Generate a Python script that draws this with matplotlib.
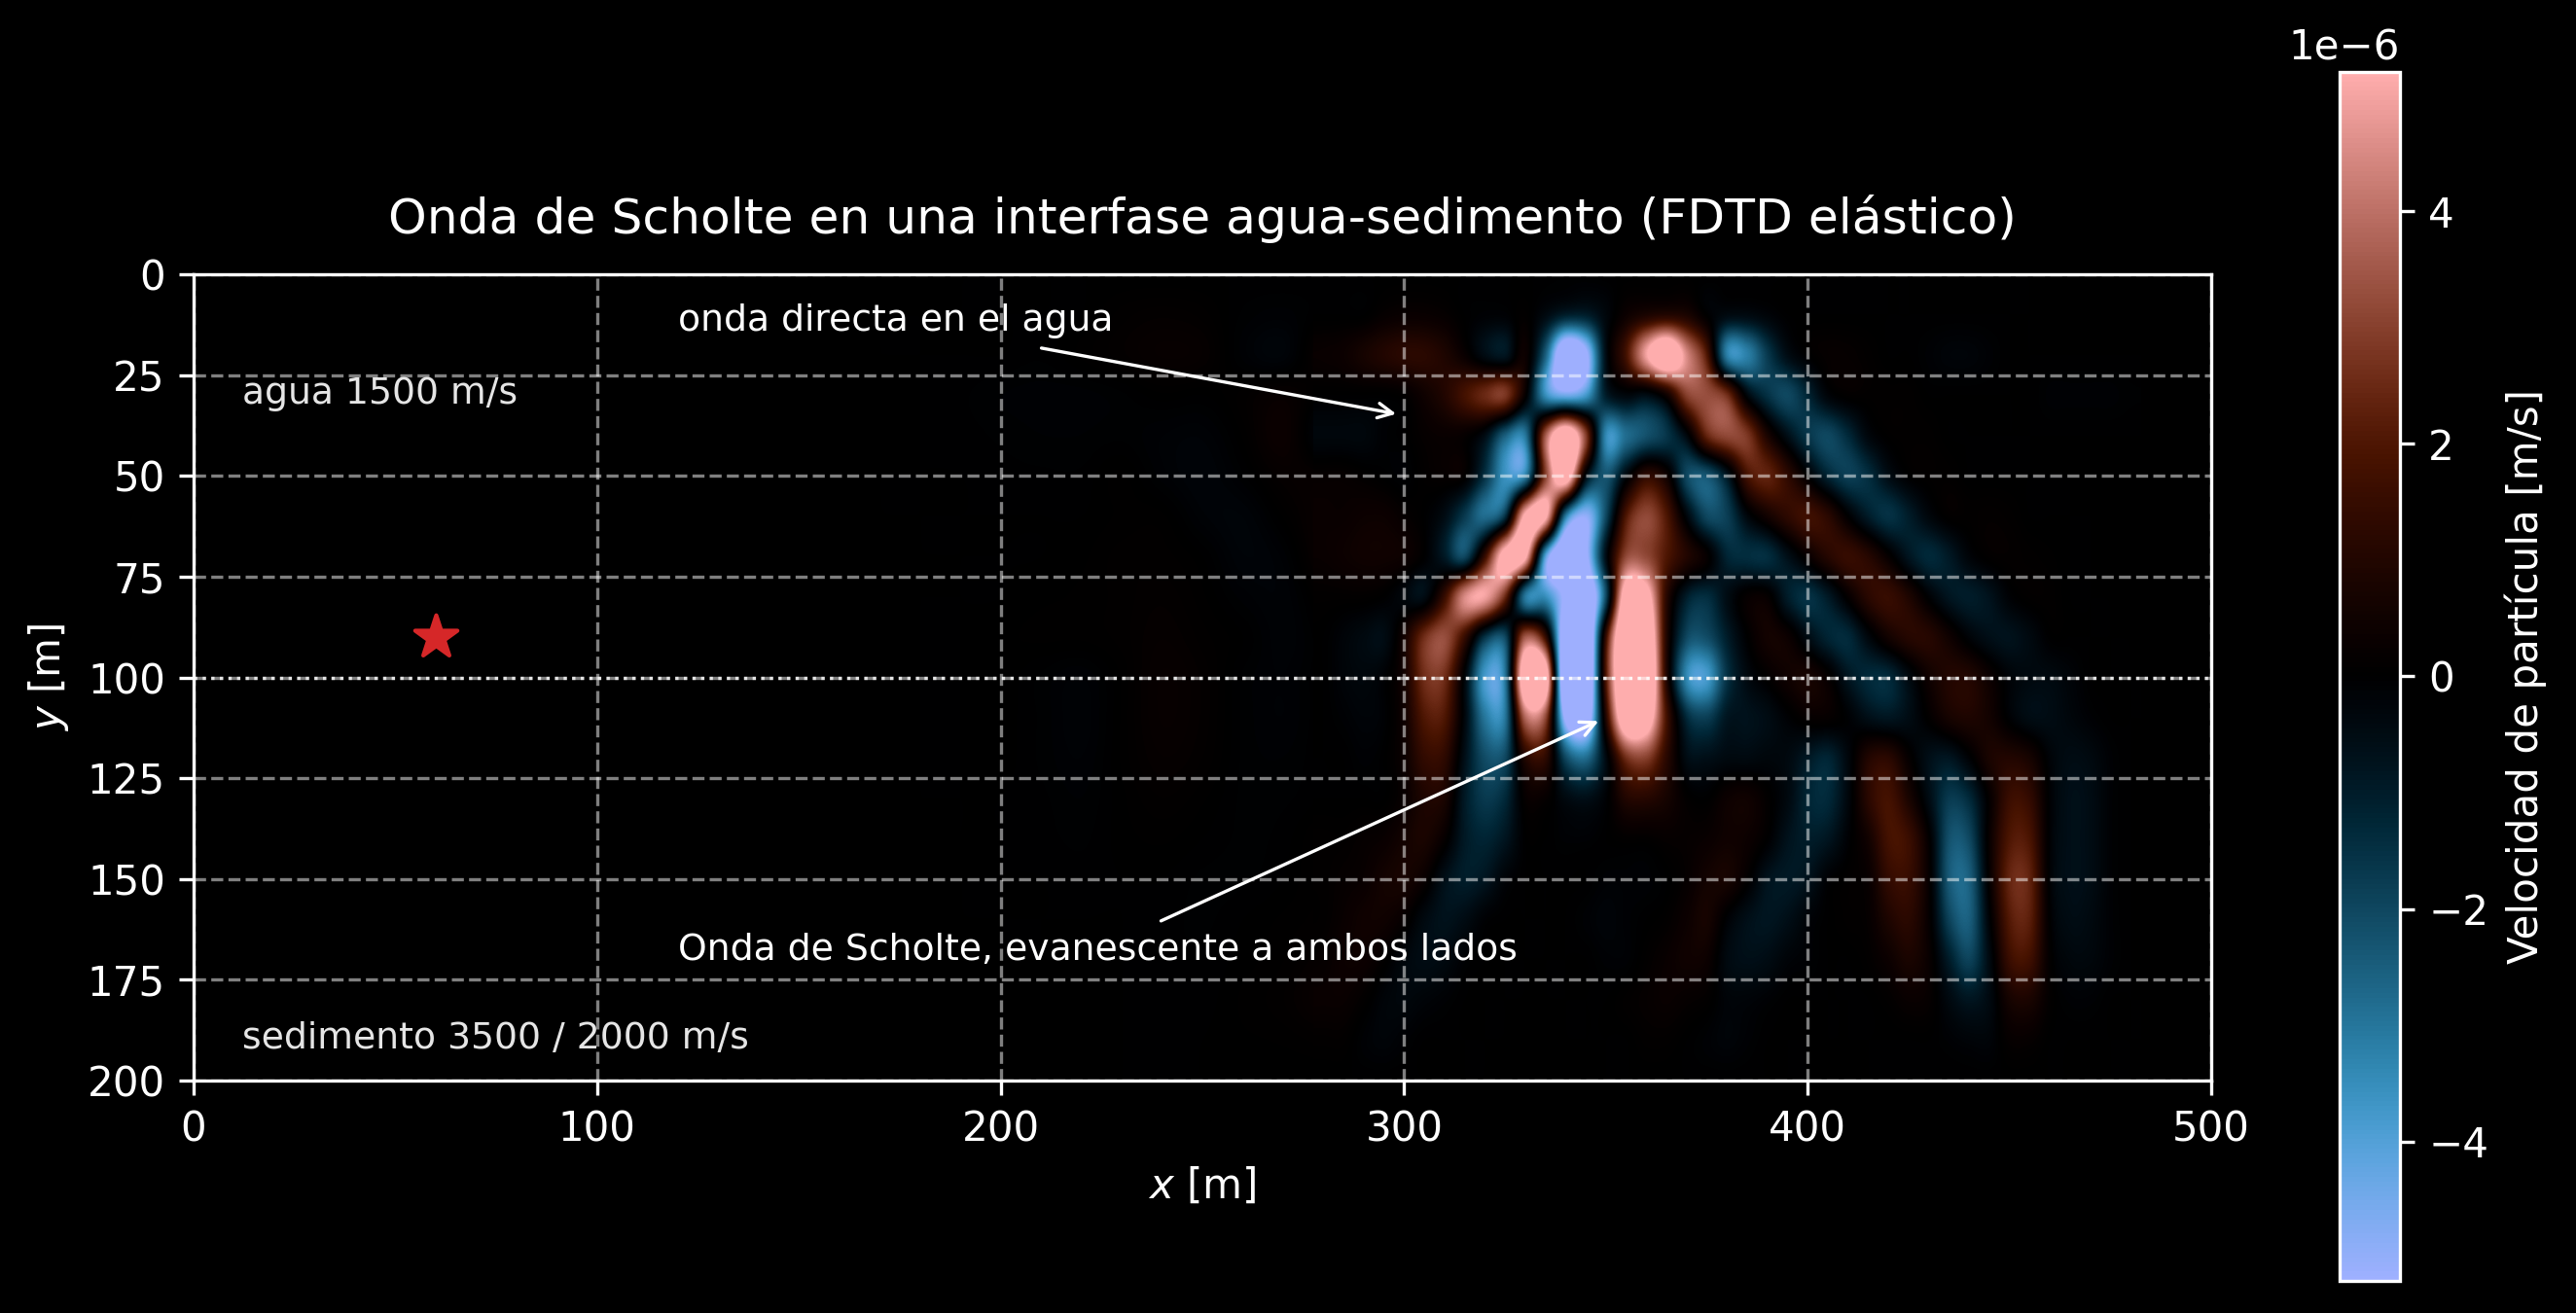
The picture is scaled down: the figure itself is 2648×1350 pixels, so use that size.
import matplotlib
import matplotlib.pyplot as plt
import numpy as np
from matplotlib.colors import ListedColormap

matplotlib.use('Agg')
plt.style.use("dark_background")
plt.rcParams["font.size"] = 10.1

# depth rows [m], shared by both field patches
y_rows = np.arange(0, 201, 10)

# faint wavefronts left of the main packet, particle velocity in 1e-6 m/s
x_left = np.arange(160, 281, 10)
field_left = [
    [0, 0, 0, 0, 0, 0, 0, 0, 0, 0, 0, 0, 0],
    [0, 0, 0, 0, 0, 0, 0, .1, .15, .1, -.05, -.1, 0],
    [0, 0, 0, 0, 0, -.03, .05, .15, .25, .2, -.1, -.2, .3],
    [0, 0, 0, -.03, -.08, -.1, -.1, -.05, .03, 0, .1, .25, 0],
    [0, 0, 0, -.02, -.05, -.08, -.08, -.05, -.12, -.15, .05, .35, -.3],
    [0, 0, 0, 0, -.02, -.03, -.03, .05, -.1, -.2, -.05, .2, .2],
    [0, 0, 0, 0, 0, 0, 0, .05, .05, -.15, -.2, .05, .3],
    [0, 0, 0, 0, 0, 0, .03, .1, .1, 0, -.2, -.1, .3],
    [0, 0, 0, 0, 0, .03, .05, .1, .15, .05, -.1, -.15, .1],
    [0, 0, 0, 0, .03, .05, .05, .1, .2, .1, 0, -.15, 0],
    [0, 0, 0, 0, .03, -.05, -.12, .05, .25, .15, -.05, -.12, 0],
    [0, 0, 0, 0, .02, -.05, -.15, .05, .25, .15, -.05, -.12, 0],
    [0, 0, 0, 0, .02, -.05, -.12, .05, .2, .12, -.05, -.08, 0],
    [0, 0, 0, 0, 0, -.03, -.08, .03, .12, .05, -.05, -.05, 0],
    [0, 0, 0, 0, 0, -.02, -.05, .02, .05, 0, -.05, -.02, .1],
    [0, 0, 0, 0, 0, 0, -.02, 0, 0, -.05, -.05, 0, .1],
    [0, 0, 0, 0, 0, 0, 0, 0, -.02, -.05, 0, .05, .1],
    [0, 0, 0, 0, 0, 0, 0, 0, -.03, -.03, .02, .08, .2],
    [0, 0, 0, 0, 0, 0, 0, 0, -.03, -.02, .05, .12, .3],
    [0, 0, 0, 0, 0, 0, 0, 0, -.02, 0, .03, .05, .1],
    [0, 0, 0, 0, 0, 0, 0, 0, 0, 0, 0, 0, 0],
]

# main packet on a 5 m x 10 m grid
x_main = np.arange(280, 481, 5)
field_main = [
    [0] * 41,
    [0, 0, 0, .2, .3, .3, .2, 0, -.1, -.1, .1, -.4, -1, -1, -.3, .4, .8, 1, .8, 0, -.4,
     -.4, -.2, 0, 0, 0, 0, 0, 0, 0, 0, 0, 0, 0, 0, 0, 0, 0, 0, 0, 0],
    [.3, .4, .7, 1, 1.2, 1.2, .9, .3, -.5, -.8, .4, -2.5, -7, -5.5, -.5, 1.8, 5, 7, 4.5, 2, -3.2,
     -3.2, -1.7, -.5, 0, .2, .2, .1, 0, 0, -.1, -.2, -.2, -.1, 0, 0, 0, 0, 0, 0, 0],
    [0, 0, 0, 0, .1, .5, 1, 1.8, 2.5, 2.8, .2, -3.5, -4.5, -3.8, -1, -.3, -.5, .5, 3, 3.3, 2.6,
     -.3, -1.5, -2, -1.2, -.2, .1, .1, .1, .1, 0, 0, 0, 0, 0, 0, -.1, -.1, -.1, -.1, -.05],
    [-.3, -.3, -.3, -.1, 0, .2, .3, .2, -.5, -2.5, -3, 3.5, 7, 3, -3.4, -2.8, -2.2, -1.6, -.3, 2.4, 3.2,
     2.8, .8, -.6, -1.6, -2, -1.3, -.3, .05, .1, .1, 0, 0, 0, 0, 0, 0, 0, 0, 0, 0],
    [.2, .2, .1, 0, -.1, .1, .2, .1, -1.5, -3.6, -3.2, 3, 6.5, -.3, -2.3, -.3, 1.3, .5, -2, -2.3, -.8,
     1.8, 2.3, 1.3, 0, -1.2, -1.8, -1.4, -.5, 0, .1, .1, 0, 0, 0, 0, 0, 0, 0, 0, 0],
    [.3, .3, .4, .4, .2, 0, -.5, -1.7, -2.8, -1.5, 5.5, 5.5, -3, -5, -2, 2, 3.2, 2, -.3, -2, -1.8,
     -.3, .6, 1.3, 1.7, 1.2, 0, -1, -1.5, -1, -.3, .1, .1, .15, .1, 0, 0, 0, 0, 0, 0],
    [.3, .4, .5, .5, .4, 0, -.9, -2, 1.5, 6, 5.5, -4, -7, -5.5, -.5, 3.2, 3.2, 2, 1, .2, -1.2,
     -1.4, -1.4, -.6, .3, 1.1, 1.5, 1.1, .2, -.8, -1.3, -.9, -.2, .1, .15, .1, .05, 0, 0, 0, 0],
    [.1, .1, .1, 0, -.3, -.5, 1.5, 4.5, 5, 2.5, -3, -3.5, -5.5, -7, -2, 6.5, 6, 1.2, -1, -1.4, -.5,
     .2, .2, -1, -1.5, -.9, .2, 1.2, 1.5, .9, -.1, -.8, -1, -.7, -.1, .1, .1, 0, 0, 0, 0],
    [0, -.2, -.4, -.5, .6, 2.6, 3.3, 1.5, -1.5, -2, 3.5, 1.5, -7, -8, 1.5, 8, 7.5, 1, -2, -2.1, -1,
     0, .6, .4, -.5, -1.2, -1.3, -.3, .6, 1.1, 1.1, .5, -.2, -.6, -.7, -.4, 0, 0, 0, 0, 0],
    [0, -.2, -.3, -.1, .6, 2.6, 2.6, -.2, -3.8, -3, 7, 6.5, -8, -8, 2, 8, 8, 1, -3.4, -3.8, -1.5,
     -.4, .1, .5, .7, .2, -.8, -1.3, -1.3, -.4, .5, 1, 1, .4, -.2, -.4, -.4, -.2, 0, 0, 0],
    [0, -.1, -.2, -.1, .5, 2, 2, -.3, -3, -3, 3.8, 3.2, -5.5, -6.5, 1, 7, 6.5, 1.8, -1.3, -1.8, -.8,
     -.7, -.5, -.1, .2, .2, -.1, -.6, -.8, -.5, .1, .7, .9, .6, -.1, -.5, -.5, -.3, -.1, 0, 0],
    [0, 0, -.1, 0, .4, 1.4, 1.3, -.6, -2.1, -2, 1, 1.3, -2, -2.8, -.4, 2.6, 3, 1.2, -.5, -.6, -.4,
     -.4, -.3, -.4, -.9, -1.2, -.3, 1, 1.2, .2, -.6, -.8, -.1, .8, 1, .7, -.2, -.5, -.4, -.1, 0],
    [0, 0, 0, 0, .3, .9, .8, -.9, -1.7, -1.3, .2, .2, -.4, -.6, -.1, 1, 1.1, .7, .1, 0, .4,
     .5, .1, -.4, -1.2, -1.3, -.3, 1.2, 1.8, .8, -.5, -1.7, -1.3, .2, 1.6, 1.4, -.1, -.6, -.5, -.1, 0],
    [.1, .1, .2, .3, .6, .8, .2, -.9, -1.2, -.8, 0, 0, -.1, -.1, 0, .1, .1, .2, .2, .3, .5,
     .4, 0, -.7, -1, -.8, -.1, .6, 1.8, 1.6, .1, -2.2, -2, .3, 2, 1.9, -.1, -.6, -.5, -.1, 0],
    [.1, .2, .3, .6, .7, .3, -.6, -1, -.8, -.2, 0, 0, 0, 0, -.1, -.1, -.1, 0, .2, .6, .7,
     .1, -.7, -.9, -.7, -.1, .1, .3, 1.4, 1.5, .2, -2.4, -2.5, .2, 2.4, 2.3, -.1, -.6, -.5, -.1, 0],
    [.1, .3, .5, .5, .2, -.4, -.7, -.5, -.1, 0, 0, 0, 0, -.1, -.2, -.1, 0, .1, .4, .7, -.1,
     -.6, -.8, -.6, -.2, 0, .1, .2, .9, 1.2, .2, -1.9, -2.5, -.1, 2.1, 2.2, 0, -.5, -.4, -.1, 0],
    [.2, .4, .4, .1, -.3, -.5, -.4, -.1, 0, 0, 0, 0, 0, 0, -.1, -.1, .1, .3, .5, .4, -.4,
     -.6, -.5, -.2, -.1, 0, 0, .1, .4, .8, .3, -1, -1.9, -.4, 1.6, 1.7, .1, -.3, -.3, -.1, 0],
    [.3, .3, .1, -.2, -.3, -.2, -.1, 0, 0, 0, 0, 0, 0, 0, 0, .1, .2, .3, .2, .1, -.2,
     -.2, -.1, 0, 0, 0, 0, 0, .1, .3, .2, -.4, -.8, -.4, .7, .8, .1, -.1, -.1, 0, 0],
    [.1, .1, -.1, -.2, -.1, 0, 0, 0, 0, 0, 0, 0, 0, 0, 0, 0, .1, .1, 0, -.1, -.2,
     -.1, 0, 0, 0, 0, 0, 0, 0, 0, 0, -.1, -.2, -.2, .2, .2, 0, 0, 0, 0, 0],
    [0] * 41,
]

x_ticks = [0, 100, 200, 300, 400, 500]
y_ticks = [0, 25, 50, 75, 100, 125, 150, 175, 200]
source_x, source_y = 60, 90
interface_y = 100
vmax = 5.2e-6

W, H = 2648, 1350
fig = plt.figure(figsize=(W / 300, H / 300), dpi=300)
ax = fig.add_axes([199 / W, 1 - 1111 / H, 2074 / W, 829 / H])
cax = fig.add_axes([2405 / W, 1 - 1317 / H, 62 / W, 1243 / H])

# berlin, but with its brownish middle pulled down to black
t = np.linspace(0, 1, 256)
colors = plt.get_cmap("berlin")(t)
mid = plt.get_cmap("berlin")(0.5)[:3]
colors[:, :3] = np.clip(colors[:, :3] - np.outer(1 - np.abs(t - 0.5) / 0.5, mid), 0, 1)
cmap = ListedColormap(colors)


def draw_patch(xs, values):
    dx = xs[1] - xs[0]
    extent = (xs[0] - dx / 2, xs[-1] + dx / 2, y_rows[-1] + 5, y_rows[0] - 5)
    return ax.imshow(np.array(values) * 1e-6, cmap=cmap, vmin=-vmax, vmax=vmax, extent=extent,
                     aspect="auto", interpolation="catrom")


ax.set_facecolor("black")
draw_patch(x_left, field_left)
im = draw_patch(x_main, field_main)
ax.set_xlim(0, 500)
ax.set_ylim(200, 0)
ax.set_xticks(x_ticks)
ax.set_yticks(y_ticks)
ax.grid(True, color="white", linestyle="--", linewidth=0.8, alpha=0.5)
ax.axhline(interface_y, color="white", linestyle=":", linewidth=0.8, alpha=0.8)
ax.scatter(source_x, source_y, marker="*", color="tab:red", s=120, zorder=5)

ax.text(12, 32, "agua 1500 m/s", color="white", fontsize=9.05, alpha=0.9)
ax.text(12, 192, "sedimento 3500 / 2000 m/s", color="white", fontsize=9.05, alpha=0.9)
ax.annotate("onda directa en el agua", xy=(300, 35), xytext=(120, 14), color="white", fontsize=9.05,
            arrowprops=dict(arrowstyle="->", color="white", lw=0.8))
ax.annotate("Onda de Scholte, evanescente a ambos lados", xy=(350, 110), xytext=(120, 170), color="white",
            fontsize=9.05, arrowprops=dict(arrowstyle="->", color="white", lw=0.8))

ax.set_xlabel("$x$ [m]")
ax.set_ylabel("$y$ [m]")
ax.set_title("Onda de Scholte en una interfase agua-sedimento (FDTD elástico)", fontsize=12.1, pad=10)

cbar = fig.colorbar(im, cax=cax)
cbar.set_label("Velocidad de partícula [m/s]")

fig.savefig("out.png", dpi=300)
